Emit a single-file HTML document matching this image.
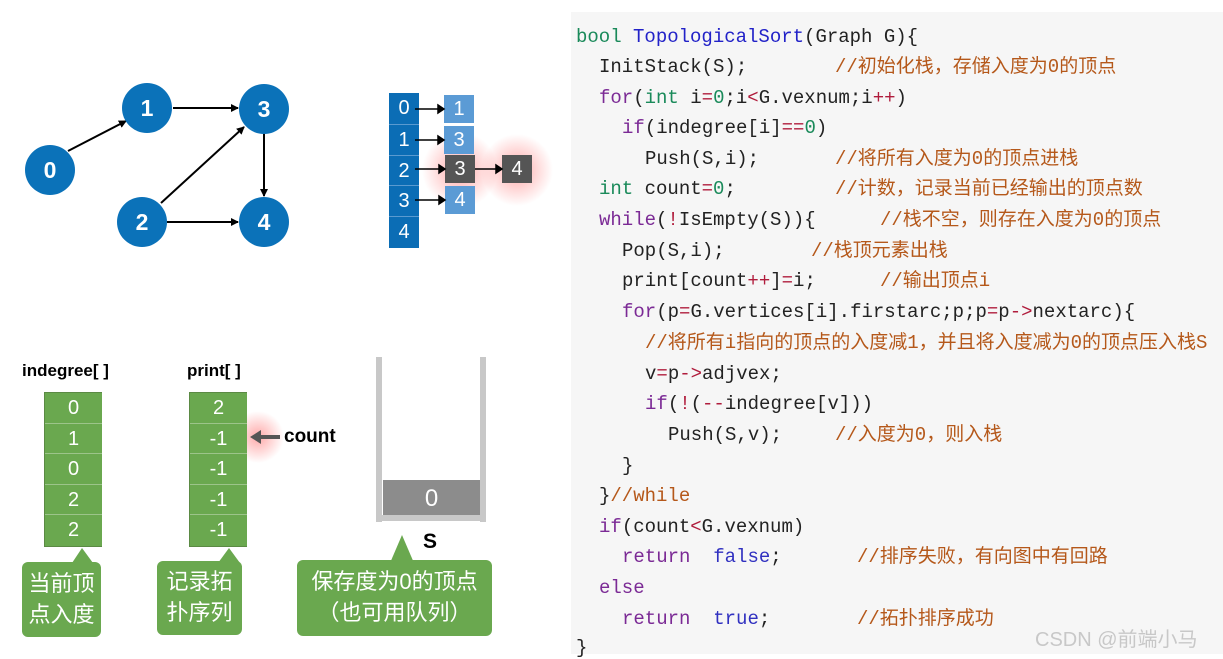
<!DOCTYPE html>
<html><head><meta charset="utf-8"><style>
body{margin:0;width:1223px;height:654px;background:#fff;position:relative;overflow:hidden;font-family:"Liberation Sans","Noto Sans CJK SC",sans-serif}
.a{position:absolute}
#code{position:absolute;left:571px;top:12px;width:652px;height:642px;background:#f6f6f6}
.l{position:absolute;white-space:pre;font-family:"Liberation Mono","Noto Sans CJK SC",monospace;font-size:19px;line-height:22px;color:#222}
.k{color:#1a8a5a}.f{color:#2222c8}.p{color:#7b2a95}.c{color:#b5581a}.o{color:#b01c3c}.n{color:#1a8a5a}.b{color:#3030c0}
.cell{position:absolute;color:#fff;font-size:20px;text-align:center}
.g{background:#6aa84f;border-bottom:1px solid #9cc48a;box-sizing:border-box}
.call{position:absolute;background:#6aa84f;border-radius:6px;color:#fff;font-size:22px;line-height:31px;text-align:center}
</style></head><body>
<svg class="a" style="left:0;top:0" width="560" height="654">
<defs><marker id="ar" markerWidth="8" markerHeight="8" refX="7" refY="4" orient="auto" markerUnits="userSpaceOnUse"><path d="M0,0 L8,4 L0,8z" fill="#000"/></marker>
<radialGradient id="gl"><stop offset="0" stop-color="#ff4040" stop-opacity=".45"/><stop offset="1" stop-color="#ff4040" stop-opacity="0"/></radialGradient></defs>
<g stroke="#000" stroke-width="2" marker-end="url(#ar)">
<line x1="68" y1="151" x2="126" y2="121"/>
<line x1="173" y1="108" x2="238" y2="108"/>
<line x1="161" y1="203" x2="244" y2="127"/>
<line x1="167" y1="222" x2="238" y2="222"/>
<line x1="264" y1="133" x2="264" y2="196"/>
</g>
<g fill="#0b72b9"><circle cx="50" cy="170" r="25"/><circle cx="147" cy="108" r="25"/><circle cx="264" cy="109" r="25"/><circle cx="142" cy="222" r="25"/><circle cx="264" cy="222" r="25"/></g>
<g fill="#fff" font-size="23" font-weight="bold" text-anchor="middle" font-family="Liberation Sans"><text x="50" y="178">0</text><text x="147" y="116">1</text><text x="264" y="117">3</text><text x="142" y="230">2</text><text x="264" y="230">4</text></g>
<circle cx="460" cy="170" r="38" fill="url(#gl)"/><circle cx="517" cy="170" r="36" fill="url(#gl)"/>
<circle cx="258" cy="437" r="26" fill="url(#gl)"/>
</svg>
<!-- adjacency -->
<div class="a" style="left:389px;top:93px;width:30px;height:155px;background:#0b6db5"></div>
<div class="cell" style="left:389px;top:93px;width:30px;line-height:30px">0</div>
<div class="cell" style="left:389px;top:124px;width:30px;line-height:30px;border-top:1px solid #5a9ad0">1</div>
<div class="cell" style="left:389px;top:155px;width:30px;line-height:30px;border-top:1px solid #5a9ad0">2</div>
<div class="cell" style="left:389px;top:185px;width:30px;line-height:30px;border-top:1px solid #5a9ad0">3</div>
<div class="cell" style="left:389px;top:216px;width:30px;line-height:30px;border-top:1px solid #5a9ad0">4</div>
<div class="cell" style="left:444px;top:95px;width:30px;height:28px;line-height:28px;background:#5b9bd5">1</div>
<div class="cell" style="left:444px;top:126px;width:30px;height:28px;line-height:28px;background:#5b9bd5">3</div>
<div class="cell" style="left:445px;top:155px;width:30px;height:28px;line-height:28px;background:#555">3</div>
<div class="cell" style="left:502px;top:155px;width:30px;height:28px;line-height:28px;background:#555">4</div>
<div class="cell" style="left:445px;top:186px;width:30px;height:28px;line-height:28px;background:#5b9bd5">4</div>
<svg class="a" style="left:400px;top:90px" width="110" height="130"><g stroke="#000" stroke-width="1.5" fill="#000">
<line x1="15" y1="19" x2="38" y2="19"/><path d="M38,15 L44,19 L38,23z"/>
<line x1="15" y1="50" x2="38" y2="50"/><path d="M38,46 L44,50 L38,54z"/>
<line x1="15" y1="79" x2="39" y2="79"/><path d="M39,75 L45,79 L39,83z"/>
<line x1="75" y1="79" x2="96" y2="79"/><path d="M96,75 L102,79 L96,83z"/>
<line x1="15" y1="110" x2="39" y2="110"/><path d="M39,106 L45,110 L39,114z"/></g></svg>
<!-- arrays -->
<div class="a" style="left:22px;top:361px;font-size:17px;font-weight:bold">indegree[ ]</div>
<div class="a" style="left:187px;top:361px;font-size:17px;font-weight:bold">print[ ]</div>
<div class="a" style="left:44px;top:392px;width:58px;height:155px;border:1px solid #5b8a44;box-sizing:border-box"></div>
<div class="cell g" style="left:45px;top:393px;width:57px;height:31px;line-height:31px">0</div>
<div class="cell g" style="left:45px;top:424px;width:57px;height:30px;line-height:30px">1</div>
<div class="cell g" style="left:45px;top:454px;width:57px;height:31px;line-height:31px">0</div>
<div class="cell g" style="left:45px;top:485px;width:57px;height:30px;line-height:30px">2</div>
<div class="cell g" style="left:45px;top:515px;width:57px;height:31px;line-height:31px;border:0">2</div>
<div class="a" style="left:189px;top:392px;width:58px;height:155px;border:1px solid #5b8a44;box-sizing:border-box"></div>
<div class="cell g" style="left:190px;top:393px;width:57px;height:31px;line-height:31px">2</div>
<div class="cell g" style="left:190px;top:424px;width:57px;height:30px;line-height:30px">-1</div>
<div class="cell g" style="left:190px;top:454px;width:57px;height:31px;line-height:31px">-1</div>
<div class="cell g" style="left:190px;top:485px;width:57px;height:30px;line-height:30px">-1</div>
<div class="cell g" style="left:190px;top:515px;width:57px;height:31px;line-height:31px;border:0">-1</div>
<svg class="a" style="left:248px;top:428px" width="34" height="18"><line x1="10" y1="9" x2="32" y2="9" stroke="#555" stroke-width="4"/><path d="M2,9 L13,2 L13,16z" fill="#555"/></svg>
<div class="a" style="left:284px;top:426px;font-size:19px;font-weight:bold">count</div>
<!-- stack -->
<div class="a" style="left:376px;top:357px;width:6px;height:165px;background:#c8c8c8"></div>
<div class="a" style="left:480px;top:357px;width:6px;height:165px;background:#c8c8c8"></div>
<div class="a" style="left:382px;top:515px;width:98px;height:6px;background:#c8c8c8"></div>
<div class="cell" style="left:383px;top:480px;width:97px;height:35px;line-height:37px;background:#8c8c8c;font-size:24px">0</div>
<div class="a" style="left:423px;top:530px;font-size:21px;font-weight:bold">S</div>
<!-- callouts -->
<svg class="a" style="left:0;top:530px" width="500" height="40"><g fill="#6aa84f"><path d="M72,33 L82,18 L93,33z"/><path d="M218,33 L229,18 L240,33z"/><path d="M390,33 L402,5 L414,33z"/></g></svg>
<div class="call" style="left:22px;top:562px;width:79px;height:75px;padding-top:6px;box-sizing:border-box">当前顶<br>点入度</div>
<div class="call" style="left:157px;top:561px;width:85px;height:74px;padding-top:5px;box-sizing:border-box">记录拓<br>扑序列</div>
<div class="call" style="left:297px;top:560px;width:195px;height:76px;padding-top:6px;box-sizing:border-box">保存度为0的顶点<br>（也可用队列）</div>
<!-- code -->
<div id="code">
<div class="l" style="left:5px;top:14px"><span class="k">bool</span> <span class="f">TopologicalSort</span>(Graph G){</div>
<div class="l" style="left:28px;top:44px">InitStack(S);</div><div class="l c" style="left:264px;top:44px">//初始化栈，存储入度为0的顶点</div>
<div class="l" style="left:28px;top:75px"><span class="p">for</span>(<span class="k">int</span> i<span class="o">=</span><span class="n">0</span>;i<span class="o">&lt;</span>G.vexnum;i<span class="o">++</span>)</div>
<div class="l" style="left:51px;top:105px"><span class="p">if</span>(indegree[i]<span class="o">==</span><span class="n">0</span>)</div>
<div class="l" style="left:74px;top:136px">Push(S,i);</div><div class="l c" style="left:264px;top:136px">//将所有入度为0的顶点进栈</div>
<div class="l" style="left:28px;top:166px"><span class="k">int</span> count<span class="o">=</span><span class="n">0</span>;</div><div class="l c" style="left:264px;top:166px">//计数，记录当前已经输出的顶点数</div>
<div class="l" style="left:28px;top:197px"><span class="p">while</span>(<span class="o">!</span>IsEmpty(S)){</div><div class="l c" style="left:309px;top:197px">//栈不空，则存在入度为0的顶点</div>
<div class="l" style="left:51px;top:228px">Pop(S,i);</div><div class="l c" style="left:240px;top:228px">//栈顶元素出栈</div>
<div class="l" style="left:51px;top:258px">print[count<span class="o">++</span>]<span class="o">=</span>i;</div><div class="l c" style="left:309px;top:258px">//输出顶点i</div>
<div class="l" style="left:51px;top:289px"><span class="p">for</span>(p<span class="o">=</span>G.vertices[i].firstarc;p;p<span class="o">=</span>p<span class="o">-&gt;</span>nextarc){</div>
<div class="l c" style="left:74px;top:320px">//将所有i指向的顶点的入度减1，并且将入度减为0的顶点压入栈S</div>
<div class="l" style="left:74px;top:351px">v<span class="o">=</span>p<span class="o">-&gt;</span>adjvex;</div>
<div class="l" style="left:74px;top:381px"><span class="p">if</span>(<span class="o">!</span>(<span class="o">--</span>indegree[v]))</div>
<div class="l" style="left:97px;top:412px">Push(S,v);</div><div class="l c" style="left:264px;top:412px">//入度为0，则入栈</div>
<div class="l" style="left:51px;top:443px">}</div>
<div class="l" style="left:28px;top:473px">}<span class="c">//while</span></div>
<div class="l" style="left:28px;top:504px"><span class="p">if</span>(count<span class="o">&lt;</span>G.vexnum)</div>
<div class="l" style="left:51px;top:534px"><span class="p">return</span>  <span class="b">false</span>;</div><div class="l c" style="left:286px;top:534px">//排序失败，有向图中有回路</div>
<div class="l" style="left:28px;top:565px"><span class="p">else</span></div>
<div class="l" style="left:51px;top:596px"><span class="p">return</span>  <span class="b">true</span>;</div><div class="l c" style="left:286px;top:596px">//拓扑排序成功</div>
<div class="l" style="left:5px;top:625px">}</div>
<div class="a" style="left:464px;top:611px;font-size:20px;color:#c8c8c8">CSDN @前端小马</div>
</div>
</body></html>
